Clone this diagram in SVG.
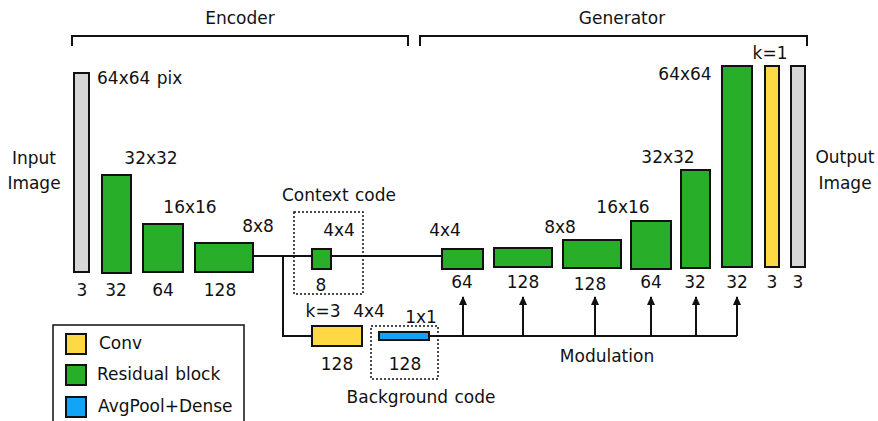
<svg xmlns="http://www.w3.org/2000/svg" width="878" height="421" viewBox="0 0 878 421">
<defs>
<style>
text{font-family:"DejaVu Sans","Liberation Sans",sans-serif;font-size:17px;fill:#111;word-spacing:1px}
.m{text-anchor:middle}
.blk{stroke:#111;stroke-width:2}
.g{fill:#29ae29}.y{fill:#ffd944}.b{fill:#12a4f6}.gr{fill:#d6d6d6}
.ln{stroke:#111;stroke-width:2;fill:none}
.dot{stroke:#111;stroke-width:1.5;stroke-dasharray:2 2;fill:none}
</style>
<marker id="ah" viewBox="0 0 9 8" refX="8" refY="4" markerWidth="9" markerHeight="8" markerUnits="userSpaceOnUse" orient="auto">
<path d="M0,0 L9,4 L0,8 Z" fill="#111"/>
</marker>
</defs>
<rect width="878" height="421" fill="#fff"/>

<g id="brackets">
<path class="ln" d="M72,46 V36 H408 V46" stroke-width="1.5"/>
<path class="ln" d="M420,46 V36 H807 V46" stroke-width="1.5"/>
<text x="240" y="24" class="m">Encoder</text>
<text x="622" y="24" class="m">Generator</text>
</g>

<g id="connectors">
<path class="ln" d="M253,256 H442"/>
<path class="ln" d="M283,256 V336 H312"/>
<path class="ln" d="M429,336 H737"/>
<path class="ln" d="M463,336 V297" marker-end="url(#ah)"/>
<path class="ln" d="M523,336 V297" marker-end="url(#ah)"/>
<path class="ln" d="M595,336 V297" marker-end="url(#ah)"/>
<path class="ln" d="M651,336 V297" marker-end="url(#ah)"/>
<path class="ln" d="M696,336 V297" marker-end="url(#ah)"/>
<path class="ln" d="M737,336 V297" marker-end="url(#ah)"/>
<text x="607" y="362" class="m">Modulation</text>
</g>

<g id="input">
<rect class="blk gr" x="74" y="73" width="15" height="199"/>
<text x="97" y="84">64x64 pix</text>
<text x="34" y="164" class="m">Input</text>
<text x="34" y="189" class="m">Image</text>
<text x="82" y="296" class="m">3</text>
</g>
<g id="enc1">
<rect class="blk g" x="102" y="175" width="29" height="98"/>
<text x="151" y="164" class="m">32x32</text>
<text x="116" y="296" class="m">32</text>
</g>
<g id="enc2">
<rect class="blk g" x="143" y="224" width="40" height="48"/>
<text x="190" y="213" class="m">16x16</text>
<text x="163" y="296" class="m">64</text>
</g>
<g id="enc3">
<rect class="blk g" x="195" y="243" width="58" height="29"/>
<text x="258" y="232" class="m">8x8</text>
<text x="220" y="296" class="m">128</text>
</g>
<g id="context">
<rect class="dot" x="294" y="212" width="69" height="82"/>
<rect class="blk g" x="312" y="249" width="19" height="20"/>
<text x="339" y="201" class="m">Context code</text>
<text x="339" y="236" class="m">4x4</text>
<text x="321" y="291" class="m">8</text>
</g>
<g id="conv3">
<rect class="blk y" x="312" y="326" width="50" height="20"/>
<text x="323" y="317" class="m">k=3</text>
<text x="369" y="317" class="m">4x4</text>
<text x="337" y="370" class="m">128</text>
</g>
<g id="background">
<rect class="dot" x="371" y="326" width="67" height="53"/>
<rect class="blk b" x="379" y="332" width="50" height="8"/>
<text x="421" y="323" class="m">1x1</text>
<text x="405" y="370" class="m">128</text>
<text x="421" y="403" class="m">Background code</text>
</g>
<g id="gen1">
<rect class="blk g" x="442" y="249" width="41" height="20"/>
<text x="445" y="236" class="m">4x4</text>
<text x="462" y="288" class="m">64</text>
</g>
<g id="gen2">
<rect class="blk g" x="494" y="248" width="58" height="19"/>
<text x="523" y="288" class="m">128</text>
</g>
<g id="gen3">
<rect class="blk g" x="563" y="240" width="58" height="28"/>
<text x="560" y="233" class="m">8x8</text>
<text x="590" y="290" class="m">128</text>
</g>
<g id="gen4">
<rect class="blk g" x="631" y="221" width="40" height="48"/>
<text x="623" y="213" class="m">16x16</text>
<text x="651" y="288" class="m">64</text>
</g>
<g id="gen5">
<rect class="blk g" x="681" y="170" width="29" height="98"/>
<text x="668" y="163" class="m">32x32</text>
<text x="695" y="288" class="m">32</text>
</g>
<g id="gen6">
<rect class="blk g" x="722" y="66" width="30" height="201"/>
<text x="685" y="80" class="m">64x64</text>
<text x="737" y="288" class="m">32</text>
</g>
<g id="conv1">
<rect class="blk y" x="765" y="66" width="14" height="201"/>
<text x="770" y="59" class="m">k=1</text>
<text x="772" y="288" class="m">3</text>
</g>
<g id="output">
<rect class="blk gr" x="791" y="66" width="14" height="201"/>
<text x="798" y="288" class="m">3</text>
<text x="845" y="163" class="m">Output</text>
<text x="845" y="189" class="m">Image</text>
</g>

<g id="legend">
<rect x="53" y="325" width="191" height="110" fill="#fff" stroke="#111" stroke-width="1.5"/>
<rect class="blk y" x="66" y="334" width="20" height="20"/>
<rect class="blk g" x="66" y="365" width="20" height="20"/>
<rect class="blk b" x="66" y="397" width="20" height="20"/>
<text x="99" y="349">Conv</text>
<text x="97" y="380">Residual block</text>
<text x="98" y="412">AvgPool+Dense</text>
</g>
</svg>
